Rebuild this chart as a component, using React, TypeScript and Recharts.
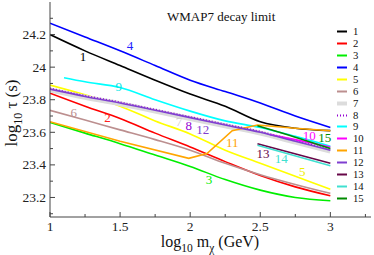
import { Line, LineChart, ReferenceDot, XAxis, YAxis } from "recharts";

const FONT = '"Liberation Serif", "Times New Roman", serif';
const AXIS_COLOR = "#444";

const X_DOMAIN: [number, number] = [1, 3.29];
const Y_DOMAIN: [number, number] = [23.08, 24.4];
const X_TICKS = [1, 1.25, 1.5, 1.75, 2, 2.25, 2.5, 2.75, 3, 3.25];
const X_LABELS = [1, 1.5, 2, 2.5, 3];
const Y_TICKS = [23.1, 23.2, 23.3, 23.4, 23.5, 23.6, 23.7, 23.8, 23.9, 24, 24.1, 24.2, 24.3];
const Y_LABELS = [23.2, 23.4, 23.6, 23.8, 24, 24.2];

// shared mass grid, log10 m (GeV)
const X_GRID = [1, 1.25, 1.5, 1.75, 2, 2.25, 2.5, 2.75, 3];
const S1 = [24.2, 24.1, 24.01, 23.92, 23.835, 23.76, 23.665, 23.625, 23.61];
const S2 = [23.84, 23.76, 23.685, 23.595, 23.51, 23.42, 23.335, 23.265, 23.21];
const S3 = [23.66, 23.595, 23.53, 23.46, 23.39, 23.31, 23.245, 23.2, 23.18];
const S4 = [24.27, 24.185, 24.1, 24.01, 23.92, 23.85, 23.78, 23.7, 23.63];
const S5 = [23.89, 23.83, 23.76, 23.67, 23.59, 23.49, 23.41, 23.33, 23.25];
const S6 = [23.735, 23.675, 23.615, 23.555, 23.49, 23.41, 23.34, 23.28, 23.225];
const S7 = [23.86, 23.815, 23.775, 23.73, 23.685, 23.64, 23.595, 23.54, 23.485];
const S8 = [23.87, 23.825, 23.785, 23.74, 23.695, 23.65, 23.605, 23.55, 23.495];
const S12 = [23.865, 23.82, 23.78, 23.735, 23.69, 23.645, 23.6, 23.545, 23.49];

const X9 = [1.1, 1.25, 1.5, 1.75, 2, 2.25, 2.5, 2.75, 3];
const S9 = [23.935, 23.91, 23.875, 23.8, 23.73, 23.67, 23.63, 23.575, 23.515];
const X10 = [2.57, 2.75, 3];
const S10 = [23.585, 23.555, 23.51];
const X11 = [1, 1.5, 1.99, 2.12, 2.3, 2.48, 2.75, 3];
const S11 = [23.665, 23.545, 23.44, 23.47, 23.61, 23.645, 23.625, 23.61];
const X13 = [2.48, 3];
const S13 = [23.53, 23.41];
const S14 = [23.52, 23.395];
const X15 = [2.48, 2.75, 3];
const S15 = [23.64, 23.57, 23.5];

type Series = {
  name: string;
  xs: number[];
  ys: number[];
  color: string;
  width?: number;
  dash?: string;
  curve?: "monotone" | "linear";
};

const SERIES: Series[] = [
  { name: "1", xs: X_GRID, ys: S1, color: "#000000" },
  { name: "2", xs: X_GRID, ys: S2, color: "#ff0000" },
  { name: "3", xs: X_GRID, ys: S3, color: "#00ee00" },
  { name: "4", xs: X_GRID, ys: S4, color: "#0000ff" },
  { name: "5", xs: X_GRID, ys: S5, color: "#ffff00" },
  { name: "6", xs: X_GRID, ys: S6, color: "#bc8f8f" },
  { name: "7", xs: X_GRID, ys: S7, color: "#dcdcdc", width: 5 },
  { name: "8", xs: X_GRID, ys: S8, color: "#9400d3", dash: "1 2" },
  { name: "9", xs: X9, ys: S9, color: "#00ffff" },
  { name: "10", xs: X10, ys: S10, color: "#ff00ff" },
  { name: "11", xs: X11, ys: S11, color: "#ffa500", curve: "linear" },
  { name: "12", xs: X_GRID, ys: S12, color: "#7f3fd0" },
  { name: "13", xs: X13, ys: S13, color: "#670748" },
  { name: "14", xs: X13, ys: S14, color: "#40e0d0" },
  { name: "15", xs: X15, ys: S15, color: "#008b00" },
];

// in-plot curve tags: [text, x, y, colour]
const TAGS: [string, number, number, string][] = [
  ["1", 1.235, 24.065, "#000000"],
  ["4", 1.57, 24.13, "#2020ff"],
  ["9", 1.49, 23.88, "#00e5e5"],
  ["6", 1.17, 23.72, "#bc8f8f"],
  ["2", 1.41, 23.69, "#ff2020"],
  ["7", 1.92, 23.665, "#d0d0d0"],
  ["8", 1.99, 23.64, "#9400d3"],
  ["12", 2.09, 23.62, "#7f3fd0"],
  ["11", 2.3, 23.54, "#ffa500"],
  ["3", 2.135, 23.31, "#00ee00"],
  ["5", 2.8, 23.36, "#eeee00"],
  ["13", 2.52, 23.47, "#670748"],
  ["14", 2.65, 23.44, "#40e0d0"],
  ["10", 2.85, 23.58, "#ff00ff"],
  ["15", 2.96, 23.57, "#008b00"],
];

const has = (list: number[], v: number) => list.some((l) => Math.abs(l - v) < 1e-6);

function BottomTick({ x, y, payload }: any) {
  const major = has(X_LABELS, payload.value);
  return (
    <g>
      <line x1={x} x2={x} y1={y} y2={y - (major ? 5 : 3)} stroke={AXIS_COLOR} />
      {major && (
        <text x={x} y={y + 13.5} textAnchor="middle" fontSize={13.5} fontFamily={FONT} fill="#222">
          {payload.value}
        </text>
      )}
    </g>
  );
}

function TopTick({ x, y, payload }: any) {
  const major = has(X_LABELS, payload.value);
  return <line x1={x} x2={x} y1={y} y2={y + (major ? 5 : 3)} stroke={AXIS_COLOR} />;
}

function LeftTick({ x, y, payload }: any) {
  const major = has(Y_LABELS, payload.value);
  return (
    <g>
      <line x1={x} x2={x + (major ? 5 : 3)} y1={y} y2={y} stroke={AXIS_COLOR} />
      {major && (
        <text x={x - 4} y={y + 4.5} textAnchor="end" fontSize={13.5} fontFamily={FONT} fill="#222">
          {payload.value}
        </text>
      )}
    </g>
  );
}

function RightTick({ x, y, payload }: any) {
  const major = has(Y_LABELS, payload.value);
  return <line x1={x} x2={x - (major ? 5 : 3)} y1={y} y2={y} stroke={AXIS_COLOR} />;
}

function LegendSwatch({ s }: { s: Series }) {
  return (
    <svg width={14} height={11} style={{ position: "absolute", left: 0, top: 0 }}>
      <line
        x1={3}
        x2={13}
        y1={5.5}
        y2={5.5}
        stroke={s.color}
        strokeWidth={s.width ? 4 : 2}
        strokeDasharray={s.dash}
      />
    </svg>
  );
}

export default function App() {
  return (
    <div style={{ position: "absolute", left: 0, top: 0, width: 374, height: 255, background: "#fff" }}>
      <LineChart width={374} height={255} margin={{ top: 2, right: 3, bottom: 8, left: 2 }}>
        <XAxis
          dataKey="x"
          type="number"
          domain={X_DOMAIN}
          ticks={X_TICKS}
          interval={0}
          allowDataOverflow
          height={30}
          tickSize={0}
          tickMargin={0}
          tickLine={false}
          tick={BottomTick}
          stroke={AXIS_COLOR}
        />
        <XAxis
          xAxisId="top"
          orientation="top"
          dataKey="x"
          type="number"
          domain={X_DOMAIN}
          ticks={X_TICKS}
          interval={0}
          allowDataOverflow
          height={0}
          tickSize={0}
          tickMargin={0}
          tickLine={false}
          tick={TopTick}
          stroke={AXIS_COLOR}
        />
        <YAxis
          type="number"
          domain={Y_DOMAIN}
          ticks={Y_TICKS}
          interval={0}
          allowDataOverflow
          width={48}
          tickSize={0}
          tickMargin={0}
          tickLine={false}
          tick={LeftTick}
          stroke={AXIS_COLOR}
        />
        <YAxis
          yAxisId="right"
          orientation="right"
          type="number"
          domain={Y_DOMAIN}
          ticks={Y_TICKS}
          interval={0}
          allowDataOverflow
          width={0}
          tickSize={0}
          tickMargin={0}
          tickLine={false}
          tick={RightTick}
          stroke={AXIS_COLOR}
        />
        {SERIES.map((s) => (
          <Line
            key={s.name}
            data={s.xs.map((x, i) => ({ x, y: s.ys[i] }))}
            dataKey="y"
            type={s.curve ?? "monotone"}
            stroke={s.color}
            strokeWidth={s.width ?? 1.6}
            strokeDasharray={s.dash}
            dot={false}
            activeDot={false}
            isAnimationActive={false}
          />
        ))}
        {TAGS.map(([t, x, y, c]) => (
          <ReferenceDot
            key={t}
            x={x}
            y={y}
            r={0}
            shape={(p: any) => (
              <text
                x={p.cx}
                y={p.cy + 4.5}
                textAnchor="middle"
                fontSize={13}
                fontFamily={FONT}
                fill={c}
              >
                {t}
              </text>
            )}
          />
        ))}
      </LineChart>

      <div
        style={{
          position: "absolute",
          left: 167,
          top: 10,
          fontFamily: FONT,
          fontSize: 13,
          color: "#111",
          whiteSpace: "nowrap",
          lineHeight: "13px",
        }}
      >
        WMAP7 decay limit
      </div>

      {SERIES.map((s, i) => (
        <div
          key={s.name}
          style={{ position: "absolute", left: 334, top: 26.2 + i * 11.9, width: 40, height: 11 }}
        >
          <LegendSwatch s={s} />
          <div
            style={{
              position: "absolute",
              left: 19,
              top: 0,
              height: 11,
              fontFamily: FONT,
              fontSize: 10.7,
              lineHeight: "11px",
              color: "#111",
              whiteSpace: "nowrap",
            }}
          >
            {s.name}
          </div>
        </div>
      ))}

      <div
        style={{
          position: "absolute",
          left: 210,
          top: 245,
          transform: "translate(-50%, -50%)",
          fontFamily: FONT,
          fontSize: 16,
          lineHeight: "18px",
          color: "#111",
          whiteSpace: "nowrap",
        }}
      >
        log<sub style={{ fontSize: 11.5 }}>10</sub> m<sub style={{ fontSize: 11.5 }}>χ</sub> (GeV)
      </div>
      <div
        style={{
          position: "absolute",
          left: 14,
          top: 113,
          transform: "translate(-50%, -50%) rotate(-90deg)",
          fontFamily: FONT,
          fontSize: 17,
          color: "#111",
          whiteSpace: "nowrap",
        }}
      >
        log<sub style={{ fontSize: 12 }}>10</sub> τ (s)
      </div>
    </div>
  );
}
